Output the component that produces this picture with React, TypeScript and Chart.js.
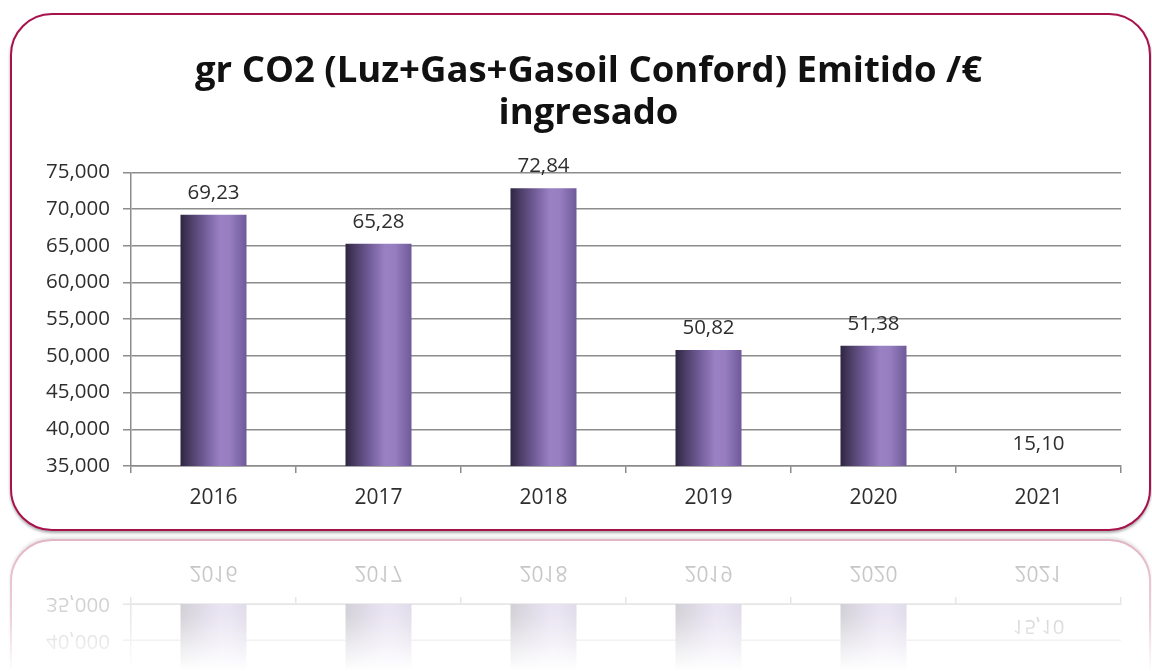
import React, { useEffect, useRef } from "react";
import { Chart, registerables } from "chart.js";

Chart.register(...registerables);

const categories = ["2016", "2017", "2018", "2019", "2020", "2021"];
const values = [69.23, 65.28, 72.84, 50.82, 51.38, 15.1];
const yTickLabels = ["35,000", "40,000", "45,000", "50,000", "55,000", "60,000", "65,000", "70,000", "75,000"];
const titleLines = ["gr CO2 (Luz+Gas+Gasoil Conford) Emitido /€", "ingresado"];
const Y_MIN = 35;
const Y_MAX = 75;
const Y_STEP = 5;

const FONT = "'Open Sans', 'DejaVu Sans', sans-serif";
const BAR_PCT = 0.4;

function barGradient(ctx: any) {
  const chart = ctx.chart;
  const xs = chart.scales && chart.scales.x;
  if (!chart.chartArea || !xs || ctx.dataIndex === undefined) return "#7d66a8";
  const cx = xs.getPixelForValue(ctx.dataIndex);
  const w = (chart.chartArea.width / categories.length) * BAR_PCT;
  const g = chart.ctx.createLinearGradient(cx - w / 2, 0, cx + w / 2, 0);
  g.addColorStop(0, "#2e2542");
  g.addColorStop(0.12, "#46395f");
  g.addColorStop(0.35, "#6f5a95");
  g.addColorStop(0.6, "#9a81c4");
  g.addColorStop(0.75, "#967ec0");
  g.addColorStop(1, "#6f5a98");
  return g;
}

const labelPlugin = {
  id: "valueLabels",
  afterLayout(chart: any) {
    const t = chart.titleBlock;
    if (t) {
      t.left += 10;
      t.right += 10;
    }
  },
  afterDatasetsDraw(chart: any) {
    const { ctx, chartArea } = chart;
    const meta = chart.getDatasetMeta(0);
    ctx.save();
    ctx.font = `20.5px ${FONT}`;
    ctx.fillStyle = "#2e2e2e";
    ctx.textAlign = "center";
    ctx.textBaseline = "alphabetic";
    meta.data.forEach((bar: any, i: number) => {
      const top = Math.min(bar.y, chartArea.bottom);
      ctx.fillText(values[i].toFixed(2).replace(".", ","), bar.x, top - 16);
    });
    ctx.restore();
  },
};

function makeChart(canvas: HTMLCanvasElement) {
  return new Chart(canvas, {
    type: "bar",
    data: {
      labels: categories,
      datasets: [
        {
          data: values,
          backgroundColor: barGradient as any,
          borderWidth: 0,
          barPercentage: BAR_PCT,
          categoryPercentage: 1,
        },
      ],
    },
    options: {
      responsive: false,
      animation: false,
      layout: { padding: { left: 36, right: 31, top: 0, bottom: 0 } },
      plugins: {
        legend: { display: false },
        tooltip: { enabled: false },
        title: {
          display: true,
          text: titleLines,
          color: "#111111",
          font: { family: FONT, size: 36.5, weight: "bold", lineHeight: 1.17 },
          padding: { top: 50, bottom: 37 },
        },
      },
      scales: {
        x: {
          afterFit: (s: any) => {
            s.height = 69;
          },
          grid: {
            display: true,
            drawOnChartArea: false,
            drawTicks: true,
            tickLength: 7,
            color: "#8c8c8c",
            lineWidth: 1.5,
            offset: true,
          },
          border: { display: true, color: "#8c8c8c", width: 1.5 },
          ticks: {
            color: "#2e2e2e",
            font: { family: FONT, size: 21 },
            padding: 12,
          },
        },
        y: {
          min: Y_MIN,
          max: Y_MAX,
          afterFit: (s: any) => {
            s.width = 95;
          },
          grid: {
            color: "#8c8c8c",
            lineWidth: 1.5,
            tickLength: 8,
          },
          border: { display: true, color: "#8c8c8c", width: 1.5 },
          ticks: {
            stepSize: Y_STEP,
            color: "#2e2e2e",
            font: { family: FONT, size: 20.5 },
            padding: 13,
            callback: (_v: any, i: number) => yTickLabels[i],
          },
        },
      },
    },
    plugins: [labelPlugin],
  });
}

function ChartLayer() {
  const ref = useRef<HTMLCanvasElement | null>(null);
  useEffect(() => {
    if (!ref.current) return;
    const c = makeChart(ref.current);
    return () => c.destroy();
  }, []);
  return (
    <div style={{ position: "absolute", left: 0, top: 0, width: 1152, height: 535 }}>
      <div
        style={{
          position: "absolute",
          left: 10,
          top: 13,
          width: 1141,
          height: 518,
          boxSizing: "border-box",
          border: "2px solid #a8124c",
          borderRadius: 42,
          background: "#ffffff",
          boxShadow: "0 2px 3px rgba(0,0,0,0.35)",
        }}
      />
      <canvas
        ref={ref}
        width={1152}
        height={535}
        style={{ position: "absolute", left: 0, top: 0, width: 1152, height: 535 }}
      />
    </div>
  );
}

export default function App() {
  useEffect(() => {
    document.body.style.margin = "0";
  }, []);
  const mask = "linear-gradient(to bottom, rgba(0,0,0,0.32) 0%, rgba(0,0,0,0.2) 60%, rgba(0,0,0,0) 100%)";
  return (
    <div style={{ position: "relative", width: 1152, height: 671, overflow: "hidden", background: "#ffffff" }}>
      <ChartLayer />
      <div
        style={{
          position: "absolute",
          left: 0,
          top: 535,
          width: 1152,
          height: 136,
          overflow: "hidden",
          WebkitMaskImage: mask,
          maskImage: mask,
        }}
      >
        <div style={{ position: "absolute", left: 0, top: 0, width: 1152, height: 535, transform: "scaleY(-1)" }}>
          <ChartLayer />
        </div>
      </div>
    </div>
  );
}
